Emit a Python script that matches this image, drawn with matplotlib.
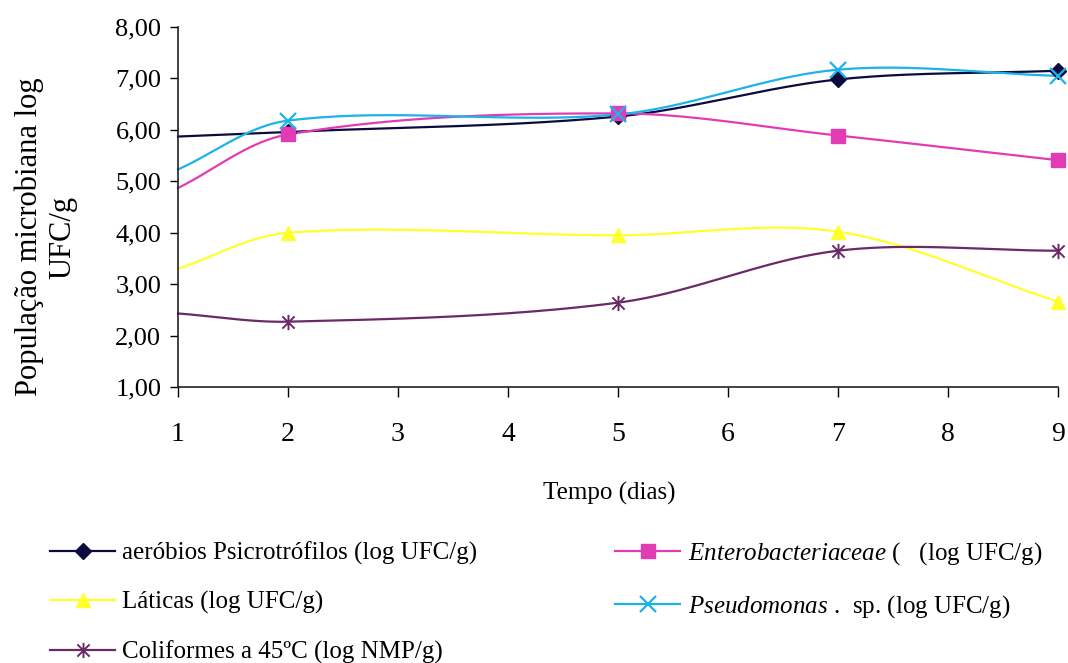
import numpy as np
import matplotlib
matplotlib.use("Agg")
import matplotlib.pyplot as plt
from matplotlib.lines import Line2D
from matplotlib.path import Path

plt.rcParams['font.family'] = ['Liberation Serif', 'DejaVu Serif']
plt.rcParams['mathtext.fontset'] = 'custom'
plt.rcParams['mathtext.it'] = 'Liberation Serif:italic'
plt.rcParams['mathtext.rm'] = 'Liberation Serif'

# ---- data ----
days = [1, 2, 5, 7, 9]
aerobios = [5.87, 5.96, 6.26, 6.98, 7.15]
entero = [4.87, 5.91, 6.32, 5.89, 5.41]
laticas = [3.30, 4.00, 3.95, 4.02, 2.66]
pseudomonas = [5.23, 6.18, 6.30, 7.17, 7.05]
coliformes = [2.43, 2.27, 2.64, 3.65, 3.65]

y_ticks = [1, 2, 3, 4, 5, 6, 7, 8]
y_tick_labels = ["1,00", "2,00", "3,00", "4,00", "5,00", "6,00", "7,00", "8,00"]
x_ticks = [1, 2, 3, 4, 5, 6, 7, 8, 9]
x_tick_labels = ["1", "2", "3", "4", "5", "6", "7", "8", "9"]

labels = {
    "aer": "aeróbios Psicrotrófilos (log UFC/g)",
    "ent": r"$\it{Enterobacteriaceae}$ (   (log UFC/g)",
    "lat": "Láticas (log UFC/g)",
    "pse": r"$\it{Pseudomonas}$ .  sp. (log UFC/g)",
    "col": "Coliformes a 45ºC (log NMP/g)",
}


def smooth(xs, ys, sx=110.0, sy=51.4, n=40):
    """Smooth Bezier curve through the points, tangent lengths scaled by segment length."""
    P = np.column_stack([np.asarray(xs, float) * sx, np.asarray(ys, float) * sy])
    m = len(P)
    tang = []
    for i in range(m):
        a = P[i - 1] if i > 0 else P[i]
        b = P[i + 1] if i < m - 1 else P[i]
        d = b - a
        tang.append(d / np.linalg.norm(d))
    out = []
    for i in range(m - 1):
        p1, p2 = P[i], P[i + 1]
        L = np.linalg.norm(p2 - p1)
        c1 = p1 + tang[i] * L / 3.0
        c2 = p2 - tang[i + 1] * L / 3.0
        t = np.linspace(0, 1, n)[:, None]
        seg = ((1 - t) ** 3) * p1 + 3 * ((1 - t) ** 2) * t * c1 + 3 * (1 - t) * t ** 2 * c2 + t ** 3 * p2
        if i > 0:
            seg = seg[1:]
        out.append(seg)
    out = np.vstack(out)
    return out[:, 0] / sx, out[:, 1] / sy


star = Path([(-1, -1), (1, 1), (-1, 1), (1, -1), (0, -1.25), (0, 1.25)],
            [Path.MOVETO, Path.LINETO, Path.MOVETO, Path.LINETO, Path.MOVETO, Path.LINETO])

series = [
    ("aer", aerobios, "#0b0b3e", "D", 8, dict()),
    ("ent", entero, "#e23cb4", "s", 10, dict()),
    ("lat", laticas, "#ffff2e", "^", 10, dict()),
    ("pse", pseudomonas, "#1cb2ea", "x", 11, dict(markeredgewidth=1.6)),
    ("col", coliformes, "#6a2a66", star, 11, dict(markeredgewidth=1.4)),
]

fig = plt.figure(figsize=(10.68, 6.63), dpi=100)
ax = fig.add_axes([178 / 1068, 1 - 387 / 663, (1058 - 178) / 1068, (387 - 27) / 663])

handles = {}
for key, vals, color, mk, ms, extra in series:
    sxv, syv = smooth(days, vals)
    ax.plot(sxv, syv, color=color, lw=1.6, zorder=2, clip_on=False)
    ax.plot(days[1:], vals[1:], ls="none", marker=mk, ms=ms, color=color,
            markeredgecolor=color, zorder=3, clip_on=False, **extra)
    handles[key] = Line2D([], [], color=color, lw=1.6, marker=mk, ms=ms,
                          markeredgecolor=color, **extra)

ax.set_xlim(1, 9)
ax.set_ylim(1, 8)
ax.set_xticks(x_ticks)
ax.set_xticklabels(x_tick_labels)
ax.set_yticks(y_ticks)
ax.set_yticklabels(y_tick_labels)
for s in ["top", "right"]:
    ax.spines[s].set_visible(False)
for s in ["left", "bottom"]:
    ax.spines[s].set_linewidth(1.2)
    ax.spines[s].set_color("#222222")
ax.tick_params(axis="x", direction="out", length=7, width=1.0, pad=18, labelsize=20)
ax.tick_params(axis="y", direction="out", length=6, width=1.0, pad=6, labelsize=19)

fig.text(46 / 1068, 1 - 237 / 663, "População microbiana log\nUFC/g", rotation=90,
         ha="center", va="center", multialignment="center", fontsize=22, linespacing=1.2)
fig.text(609 / 1068, 1 - 493 / 663, "Tempo (dias)", ha="center", va="center", fontsize=18)

order = ["aer", "lat", "col", "ent", "pse"]
fig.legend([handles[k] for k in order], [labels[k] for k in order],
           loc="upper left", bbox_to_anchor=(50 / 1068, 1 - 540 / 663), ncol=2,
           frameon=False, fontsize=18, handlelength=2.6, handletextpad=0.3,
           columnspacing=5.5, labelspacing=1.05, borderaxespad=0, borderpad=0)

fig.savefig("out.png", dpi=100)
